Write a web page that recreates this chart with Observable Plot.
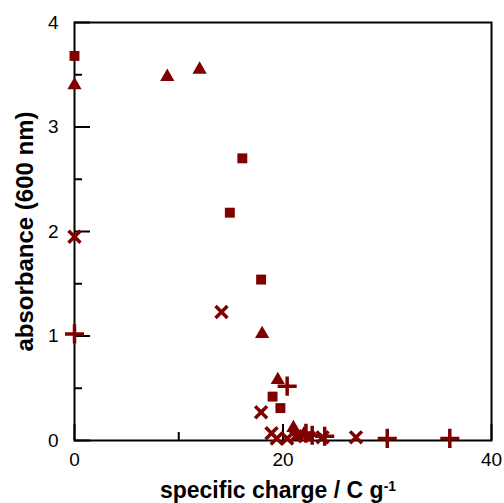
<!DOCTYPE html>
<html><head><meta charset="utf-8">
<script src="https://cdn.jsdelivr.net/npm/d3@7"></script>
<script src="https://cdn.jsdelivr.net/npm/@observablehq/plot@0.6"></script>
<style>
body{margin:0;background:#fff}
#chart{width:504px;height:503px}
</style>
</head><body><div id="chart"></div>
<script>
// Series: filled squares
const squareX = [0, 14.9, 16.1, 17.9, 19.0, 19.75, 21.5, 22.5];
const squareY = [3.68, 2.18, 2.70, 1.54, 0.42, 0.31, 0.05, 0.04];
// Series: filled triangles
const triangleX = [0, 8.9, 12.0, 18.0, 19.5, 21.0, 22.0];
const triangleY = [3.40, 3.48, 3.55, 1.02, 0.58, 0.12, 0.06];
// Series: crosses (x)
const crossX = [0, 14.1, 17.9, 18.9, 19.4, 20.4, 21.2, 23.8, 27.0];
const crossY = [1.95, 1.23, 0.27, 0.07, 0.02, 0.02, 0.04, 0.03, 0.03];
// Series: plus signs
const plusX = [0, 20.4, 22.2, 22.8, 24.0, 30.0, 36.0];
const plusY = [1.02, 0.52, 0.07, 0.05, 0.04, 0.02, 0.02];

// Axis ticks
const yMajorTicks = [0, 1, 2, 3, 4];
const yMinorTicks = [0.5, 1.5, 2.5, 3.5];
const xMajorTicks = [0, 20, 40];
const xMinorTicks = [10, 30];

const xTitle = "specific charge / C g";
const xTitleSup = "-1";
const yTitle = "absorbance (600 nm)";

const color = "#800000";
const toRows = (xs, ys) => xs.map((x, i) => ({x, y: ys[i]}));

const squares = toRows(squareX, squareY);
const triangles = toRows(triangleX, triangleY);
const crosses = toRows(crossX, crossY);
const pluses = toRows(plusX, plusY);

// layout
const W = 504, H = 503, ML = 74, MR = 13, MT = 22, MB = 63;
const frameW = W - ML - MR, frameH = H - MT - MB;
const majorLen = 16, minorLen = 8;

const chart = Plot.plot({
  width: W,
  height: H,
  marginLeft: ML,
  marginRight: MR,
  marginTop: MT,
  marginBottom: MB,
  style: {fontFamily: "'Liberation Sans', Arial, sans-serif", fontSize: "19px"},
  x: {domain: [0, 40]},
  y: {domain: [0, 4]},
  marks: [
    Plot.axisY({ticks: yMajorTicks, tickSize: 0, tickPadding: 16, label: null, fontSize: 19, tickFormat: d3.format("d")}),
    Plot.axisX({ticks: xMajorTicks, tickSize: 0, tickPadding: 12, label: null, fontSize: 19, tickFormat: d3.format("d")}),
    // inward ticks
    Plot.tickY(yMajorTicks, {y: d => d, insetRight: frameW - majorLen, stroke: "black", strokeWidth: 2}),
    Plot.tickY(yMinorTicks, {y: d => d, insetRight: frameW - minorLen, stroke: "black", strokeWidth: 2}),
    Plot.tickX(xMajorTicks, {x: d => d, insetTop: frameH - majorLen, stroke: "black", strokeWidth: 2}),
    Plot.tickX(xMinorTicks, {x: d => d, insetTop: frameH - minorLen, stroke: "black", strokeWidth: 2}),
    Plot.frame({stroke: "black", strokeWidth: 2}),
    Plot.text([yTitle], {frameAnchor: "left", dx: -49, rotate: -90, textAnchor: "middle", lineAnchor: "middle", fontWeight: "bold", fontSize: 24, text: d => d}),
    Plot.text([xTitle], {frameAnchor: "bottom", dy: 50, dx: -5, textAnchor: "middle", lineAnchor: "middle", fontWeight: "bold", fontSize: 23, text: d => d, className: "xtitle"}),
    Plot.dot(squares, {x: "x", y: "y", symbol: "square", r: 5.6, fill: color}),
    Plot.dot(triangles, {x: "x", y: "y", symbol: "triangle", r: 5.3, fill: color}),
    Plot.dot(crosses, {x: "x", y: "y", symbol: "times", r: 5.5, fill: "none", stroke: color, strokeWidth: 3.5}),
    Plot.dot(pluses, {x: "x", y: "y", symbol: "plus", r: 6.2, fill: "none", stroke: color, strokeWidth: 3.5})
  ]
});
document.getElementById("chart").appendChild(chart);

// superscript on x title
d3.select(chart).selectAll("g.xtitle text").each(function() {
  d3.select(this).append("tspan").attr("dy", "-0.5em").attr("font-size", "14px").text(xTitleSup);
});
</script>
</body></html>
